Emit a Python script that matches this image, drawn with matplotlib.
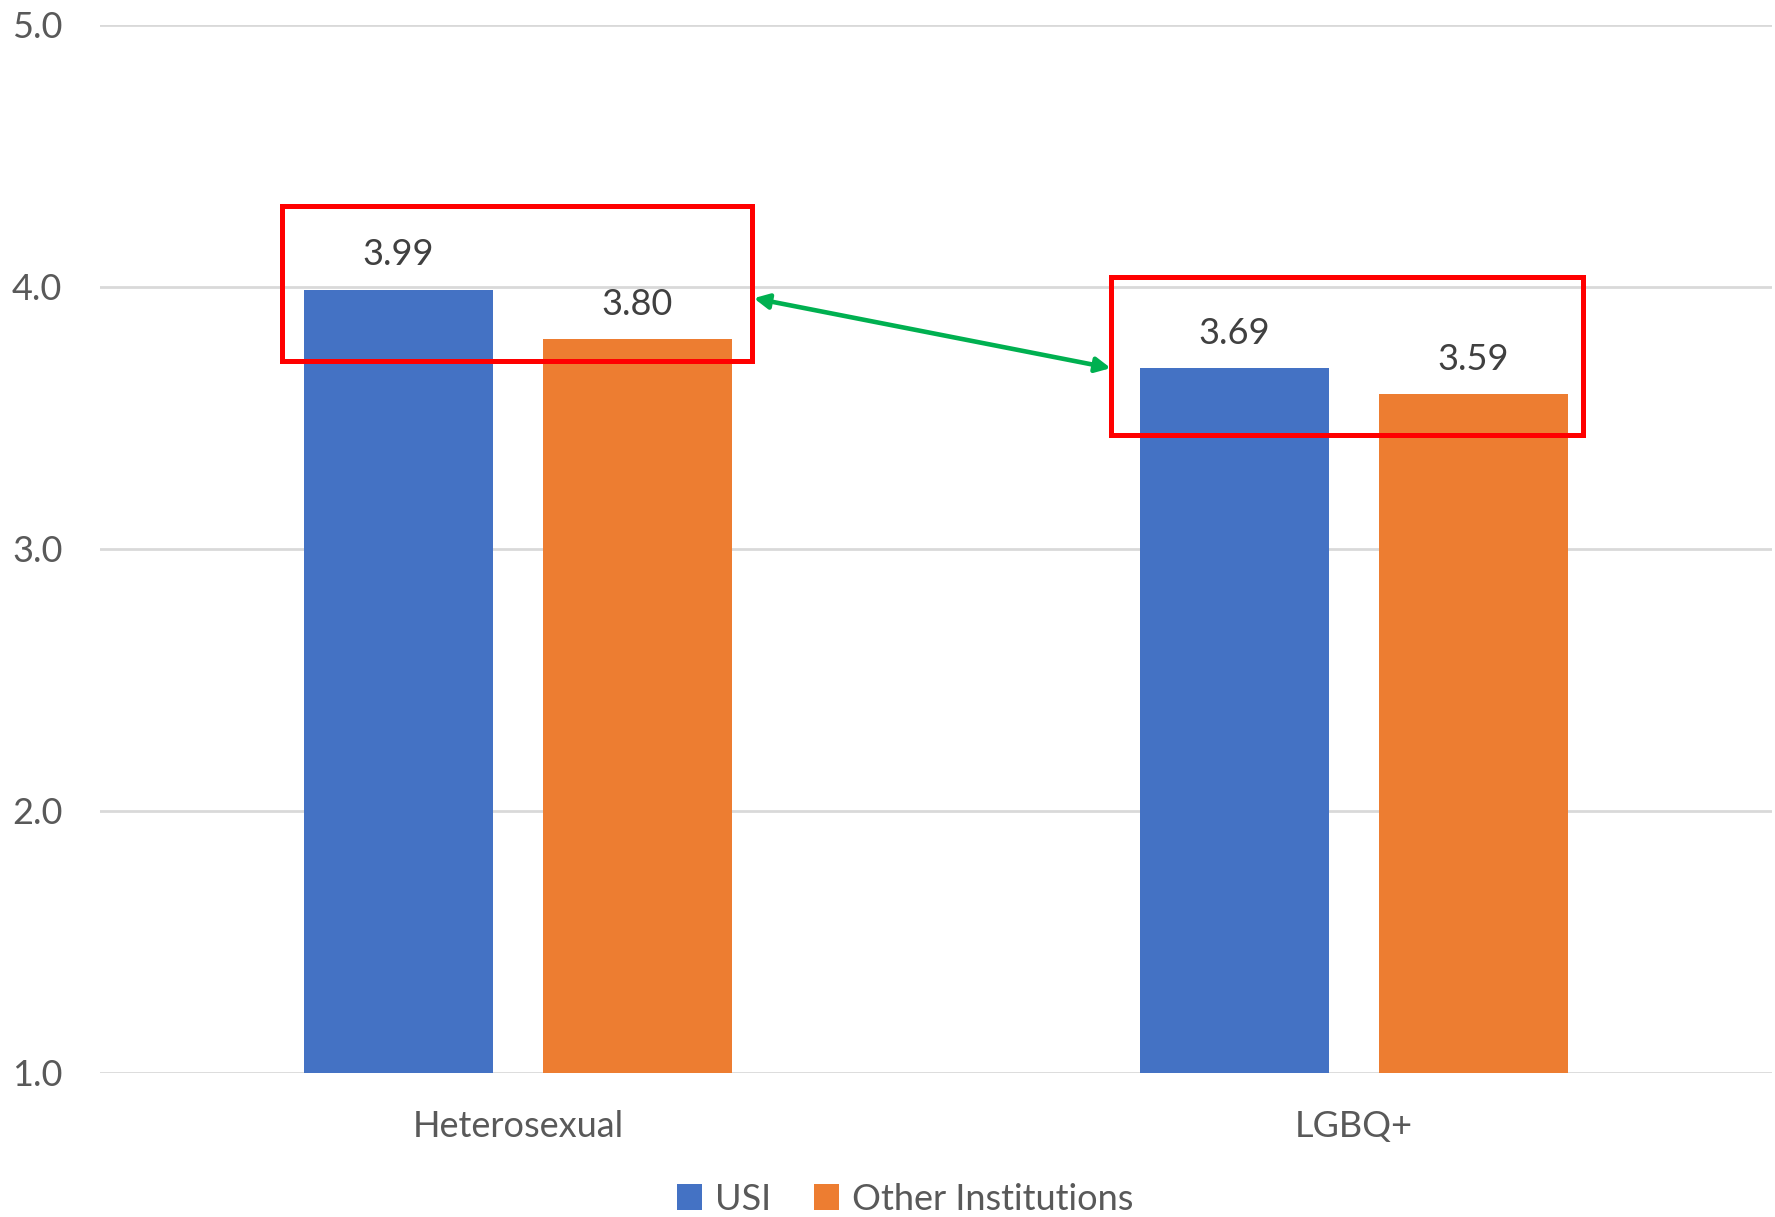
import matplotlib
matplotlib.use("Agg")
import matplotlib.pyplot as plt
from matplotlib.patches import Rectangle, FancyArrowPatch
import numpy as np

categories = ["Heterosexual", "LGBQ+"]
series_names = ["USI", "Other Institutions"]
usi_values = [3.99, 3.69]
other_values = [3.80, 3.59]
y_ticks = [1.0, 2.0, 3.0, 4.0, 5.0]

BLUE = "#4472C4"
ORANGE = "#ED7D31"
GRID = "#D9D9D9"
TEXT = "#595959"
LABEL = "#404040"

plt.rcParams["font.family"] = ["Lato", "DejaVu Sans"]

W, H = 1775, 1217
fig = plt.figure(figsize=(W / 100, H / 100), dpi=100)
ax = fig.add_axes([100 / W, 1 - 1072.7 / H, (1772 - 100) / W, (1072.7 - 25) / H])

x = np.arange(len(categories))
bw = 0.225
off = 0.143
b1 = ax.bar(x - off, usi_values, bw, bottom=0, color=BLUE, zorder=3, label=series_names[0])
b2 = ax.bar(x + off, other_values, bw, bottom=0, color=ORANGE, zorder=3, label=series_names[1])

for bars, vals in ((b1, usi_values), (b2, other_values)):
    for rect, v in zip(bars, vals):
        ax.annotate(f"{v:.2f}", (rect.get_x() + rect.get_width() / 2, v),
                    xytext=(0, 25), textcoords="offset points",
                    ha="center", va="center", fontsize=26, color=LABEL)

ax.set_ylim(1, 5)
ax.set_xlim(-0.5, 1.5)
ax.set_yticks(y_ticks)
ax.set_yticklabels([f"{t:.1f}" for t in y_ticks])
ax.set_xticks(x)
ax.set_xticklabels(categories)
ax.tick_params(axis="both", length=0, labelsize=26, colors=TEXT)
ax.tick_params(axis="y", pad=27)
ax.tick_params(axis="x", pad=27)
ax.yaxis.grid(True, color=GRID, linewidth=2, zorder=0)
ax.set_axisbelow(True)
for s in ax.spines.values():
    s.set_visible(False)

# highlight boxes around each group's values
boxes = [(-0.282, 3.719, 0.562, 0.591), (0.7096, 3.436, 0.5644, 0.602)]
for bx, by, bwid, bh in boxes:
    ax.add_patch(Rectangle((bx, by), bwid, bh, fill=False, edgecolor="#FF0000",
                           linewidth=3.6, zorder=5, clip_on=False))

# double-headed arrow linking the two groups
arrow = FancyArrowPatch((0.282, 3.957), (0.709, 3.69), arrowstyle="<|-|>",
                        mutation_scale=22, color="#00B050", linewidth=3.3,
                        shrinkA=0, shrinkB=0, zorder=6, clip_on=False)
ax.add_patch(arrow)

leg = fig.legend(handles=[b1, b2], labels=series_names, loc="center",
                 bbox_to_anchor=(905 / W, 1 - 1199 / H), ncol=2, frameon=False,
                 fontsize=26, handlelength=0.7, handleheight=0.7,
                 handletextpad=0.35, columnspacing=1.2, labelcolor=TEXT)

fig.savefig("out.png", dpi=100)
